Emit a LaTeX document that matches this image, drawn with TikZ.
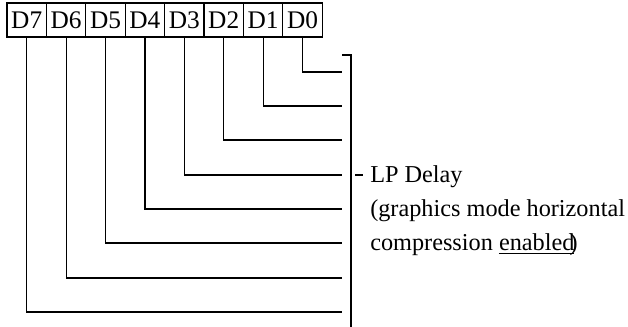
\documentclass[tikz,border=0pt]{standalone}
\usepackage{fontspec}
\setmainfont{Liberation Serif}
\begin{document}
\begin{tikzpicture}[x=0.75pt,y=-0.75pt,
  cell/.style={draw,line width=0.8pt,minimum width=29.55pt,minimum height=25.5pt,inner sep=0pt,outer sep=0pt,font=\fontsize{19}{19}\selectfont,anchor=north west},
  wire/.style={line width=0.9pt},
  txt/.style={anchor=base west,inner sep=0pt,font=\fontsize{18.2}{18.2}\selectfont}]
\useasboundingbox (0,0) rectangle (628,327);
\foreach \n [count=\i from 0] in {7,6,5,4,3,2,1,0}{
  \node[cell] (d\n) at ({7+39.4*\i},3) {D\n};
}
\foreach \n/\y in {0/72,1/106,2/140,3/175,4/209,5/243,6/278,7/312}{
  \coordinate (e\n) at (342,\y);
  \draw[wire] (d\n.south) |- (e\n);
}
\coordinate (bt) at (351,55);
\coordinate (bb) at (351,327);
\coordinate (tk) at (342,55);
\draw[wire] (tk) -- (bt) -- (bb);
\coordinate (m1) at (355,175);
\coordinate (m2) at (363,175);
\draw[wire] (m1) -- (m2);
\node[txt] (t1) at (370,183) {LP Delay};
\node[txt] (t2) at (370,217) {(graphics mode horizontal};
\node[txt] (t3) at (370,251) {compression \underline{enabled}\kern-0.2em)};
\end{tikzpicture}
\end{document}
